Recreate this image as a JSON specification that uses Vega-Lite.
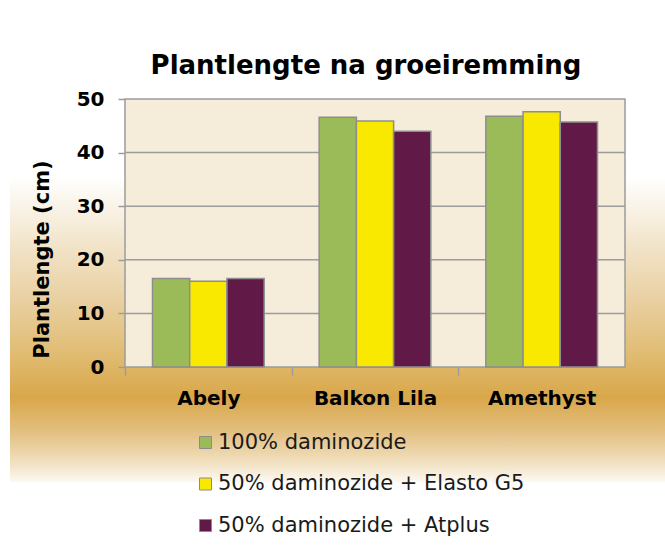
{
  "$schema": "https://vega.github.io/schema/vega-lite/v6.json",
  "width": 500,
  "height": 268,
  "autosize": {"type": "none"},
  "padding": {"left": 125, "top": 99, "right": 40, "bottom": 188},
  "background": "#FFFFFF",
  "title": {
    "text": "Plantlengte na groeiremming",
    "font": "DejaVu Sans",
    "fontSize": 26,
    "fontWeight": "bold",
    "color": "#000000",
    "anchor": "middle",
    "frame": "group",
    "baseline": "alphabetic",
    "offset": -11,
    "dx": -9
  },
  "config": {
    "font": "DejaVu Sans",
    "axisY": {
      "title": "Plantlengte (cm)", "titleFont": "DejaVu Sans", "titleFontSize": 21, "titleFontWeight": "bold", "titleColor": "#000000",
      "titleX": -73, "titleY": 160, "titleAngle": 270, "titleAlign": "center", "titleBaseline": "bottom",
      "labelFont": "DejaVu Sans", "labelFontSize": 20, "labelFontWeight": "bold", "labelColor": "#000000", "labelPadding": 14,
      "domain": false, "grid": false, "tickSize": 7, "tickColor": "#9C9C9C", "tickWidth": 1.5
    },
    "view": {
      "fill": "#F5ECDA",
      "strokeWidth": 230,
      "stroke": {
        "gradient": "linear",
        "x1": 0, "y1": 0.291, "x2": 0, "y2": 1.448,
        "stops": [
          {"offset": 0, "color": "#FFFFFF"},
          {"offset": 0.235, "color": "#F1E2C6"},
          {"offset": 0.397, "color": "#E9D0A2"},
          {"offset": 0.558, "color": "#E1BE76"},
          {"offset": 0.71, "color": "#D9A74A"},
          {"offset": 0.816, "color": "#E2BE7E"},
          {"offset": 0.913, "color": "#F0DDBA"},
          {"offset": 1, "color": "#FFFFFF"}
        ]
      }
    }
  },
  "layer": [
    {
      "data": {"values": [{"lo": 0, "hi": 50}]},
      "mark": {"type": "rect", "fill": "#F5ECDA", "stroke": "#9C9C9C", "strokeWidth": 1.5},
      "encoding": {
        "y": {"field": "lo", "type": "quantitative", "scale": {"domain": [0, 50], "nice": false},
              "title": "Plantlengte (cm)", "axis": {"values": [0, 10, 20, 30, 40, 50], "title": "Plantlengte (cm)"}},
        "y2": {"field": "hi"}
      }
    },
    {
      "data": {"values": [{"g": 10}, {"g": 20}, {"g": 30}, {"g": 40}]},
      "mark": {"type": "rule", "color": "#9C9C9C", "strokeWidth": 1.5},
      "encoding": {
        "y": {"field": "g", "type": "quantitative", "title": "Plantlengte (cm)",
              "axis": {"values": [0, 10, 20, 30, 40, 50], "title": "Plantlengte (cm)"}}
      }
    },
    {
      "data": {
        "values": [
          {"ras": "Abely", "behandeling": "100% daminozide", "lengte": 16.5},
          {"ras": "Abely", "behandeling": "50% daminozide + Elasto G5", "lengte": 16.0},
          {"ras": "Abely", "behandeling": "50% daminozide + Atplus", "lengte": 16.5},
          {"ras": "Balkon Lila", "behandeling": "100% daminozide", "lengte": 46.6},
          {"ras": "Balkon Lila", "behandeling": "50% daminozide + Elasto G5", "lengte": 45.9},
          {"ras": "Balkon Lila", "behandeling": "50% daminozide + Atplus", "lengte": 44.0},
          {"ras": "Amethyst", "behandeling": "100% daminozide", "lengte": 46.8},
          {"ras": "Amethyst", "behandeling": "50% daminozide + Elasto G5", "lengte": 47.6},
          {"ras": "Amethyst", "behandeling": "50% daminozide + Atplus", "lengte": 45.7}
        ]
      },
      "mark": {"type": "bar", "stroke": "#8E8E8E", "strokeWidth": 1.5},
      "encoding": {
        "x": {
          "field": "ras", "type": "nominal",
          "scale": {"domain": ["Abely", "Balkon Lila", "Amethyst"], "paddingInner": 0.33, "paddingOuter": 0.165},
          "axis": {
            "title": null, "labelAngle": 0, "labelFont": "DejaVu Sans", "labelFontSize": 20, "labelFontWeight": "bold",
            "labelColor": "#000000", "labelPadding": 13, "labelBaseline": "top",
            "domain": false, "tickOffset": -83.33, "labelOffset": 83.33, "tickSize": 8, "tickColor": "#9C9C9C", "tickWidth": 1.5, "grid": false
          }
        },
        "xOffset": {
          "field": "behandeling", "type": "nominal",
          "scale": {"domain": ["100% daminozide", "50% daminozide + Elasto G5", "50% daminozide + Atplus"], "paddingInner": 0, "paddingOuter": 0}
        },
        "y": {
          "field": "lengte", "type": "quantitative", "title": "Plantlengte (cm)",
          "axis": {"values": [0, 10, 20, 30, 40, 50], "title": "Plantlengte (cm)"}
        },
        "color": {
          "field": "behandeling", "type": "nominal",
          "scale": {
            "domain": ["100% daminozide", "50% daminozide + Elasto G5", "50% daminozide + Atplus"],
            "range": ["#9BBB59", "#F9E900", "#611A48"]
          },
          "legend": {
            "title": null, "orient": "none", "legendX": 70, "legendY": 333, "direction": "vertical",
            "symbolType": "square", "symbolSize": 144, "symbolStrokeColor": "#8C8C8C", "symbolStrokeWidth": 1,
            "labelFont": "DejaVu Sans", "labelFontSize": 21, "labelColor": "#1A1A1A", "labelOffset": 2,
            "rowPadding": 19.5, "padding": 0, "labelLimit": 500
          }
        }
      }
    }
  ]
}
